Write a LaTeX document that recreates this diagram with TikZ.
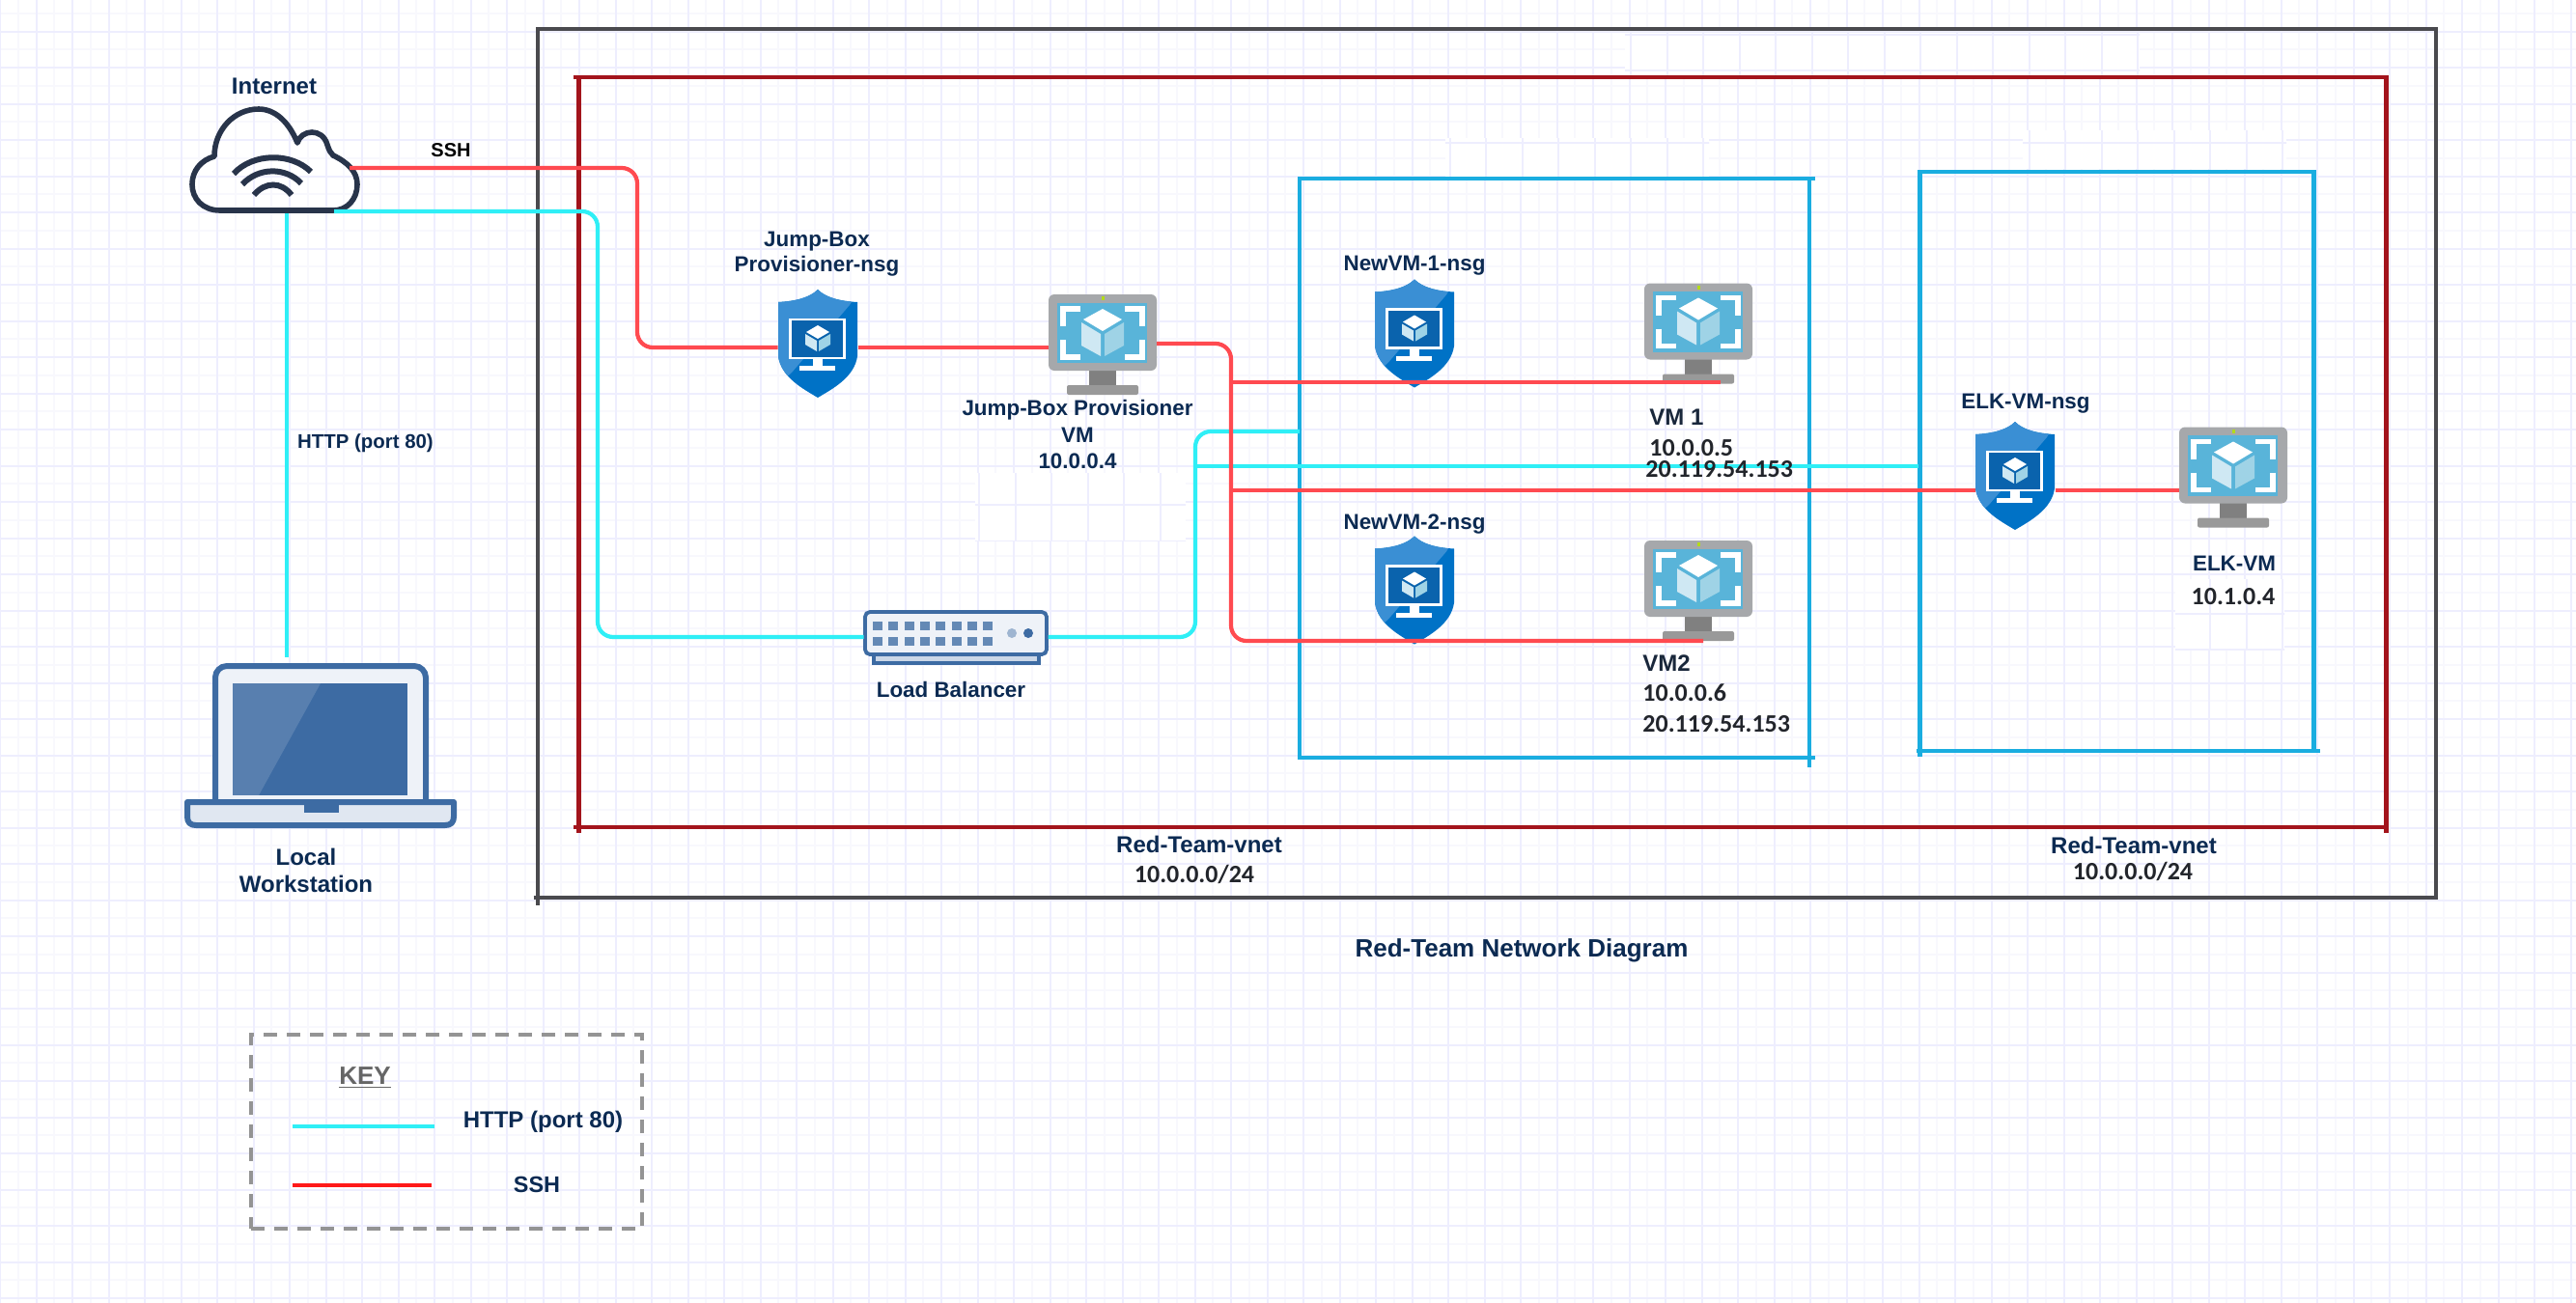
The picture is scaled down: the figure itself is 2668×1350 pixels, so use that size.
\documentclass[tikz,border=0pt]{standalone}
\usepackage{fontspec}
\setmainfont{Liberation Sans}
\newfontfamily\ipfont{Carlito}
\usetikzlibrary{calc}
\definecolor{navy}{HTML}{0B2A52}
\definecolor{ipdark}{HTML}{22252B}
\definecolor{gmajor}{HTML}{EEEEFE}
\definecolor{gminor}{HTML}{F8F8FD}
\definecolor{outerbox}{HTML}{4A4A4E}
\definecolor{vnetred}{HTML}{A3141C}
\definecolor{subnetblue}{HTML}{1AADE0}
\definecolor{sshred}{HTML}{FF4A50}
\definecolor{httpcyan}{HTML}{2FEFF6}
\definecolor{shieldlight}{HTML}{3A8FD4}
\definecolor{shielddark}{HTML}{0072C6}
\definecolor{shieldscreen}{HTML}{0A63AD}
\definecolor{vmframe}{HTML}{A6A8AB}
\definecolor{vmscreen}{HTML}{59B4D9}
\definecolor{faceleft}{HTML}{CFE8F3}
\definecolor{faceright}{HTML}{9FD3E6}
\definecolor{cloudink}{HTML}{28344A}
\definecolor{laptopink}{HTML}{3D6BA3}
\definecolor{laptoplid}{HTML}{EEF2F8}
\definecolor{laptopbase}{HTML}{E0E7F1}
\tikzset{
  gridmajor/.style={draw=gmajor,line width=1pt},
  gridminor/.style={draw=gminor,line width=.8pt},
  outerframe/.style={draw=outerbox,line width=2pt,outer sep=0pt},
  vnetframe/.style={draw=vnetred,line width=2.4pt,outer sep=0pt},
  subnetframe/.style={draw=subnetblue,line width=2.2pt,outer sep=0pt},
  ssh/.style={draw=sshred,line width=2.1pt,rounded corners=8pt},
  http/.style={draw=httpcyan,line width=2.1pt,rounded corners=8pt},
  keybox/.style={draw=black!42,line width=2.2pt,dash pattern=on 7pt off 5pt},
  lbl/.style={font=\fontsize{11.2}{13}\selectfont\bfseries,text=navy,inner sep=0pt,align=center},
  lblbig/.style={font=\fontsize{12}{14}\selectfont\bfseries,text=navy,inner sep=0pt,align=center},
  iplbl/.style={font=\fontsize{13}{15}\selectfont\ipfont\bfseries,text=ipdark,inner sep=0pt},
  iconbox/.style={inner sep=0pt,outer sep=0pt,draw=none,minimum width=#1},
  nsgshield/.pic={
    \begin{scope}
      \path[clip] (0,-56) .. controls (-8,-48) and (-22,-44) .. (-41,-43) -- (-41,13)
        .. controls (-38,35) and (-15,47) .. (0,56)
        .. controls (15,47) and (38,35) .. (41,13) -- (41,-43)
        .. controls (22,-44) and (8,-48) .. (0,-56) -- cycle;
      \fill[shielddark] (-45,-60) rectangle (45,60);
      \fill[shieldlight] (-45,-60) -- (45,-60) -- (33,-40) -- (-27,30) -- (-45,46) -- cycle;
    \end{scope}
    \draw[white,fill=shieldscreen,line width=1.3pt] (-28.5,-25) rectangle (27.5,15);
    \fill[white] (-5,16) rectangle (5,24);
    \fill[white] (-19,23) rectangle (18,28);
    \fill[white] (0,-19) -- (12,-12) -- (0,-5) -- (-12,-12) -- cycle;
    \fill[faceleft] (-13,-10) -- (-1,-3) -- (-1,8) -- (-13,1) -- cycle;
    \fill[faceright] (1,-3) -- (13,-10) -- (13,1) -- (1,8) -- cycle;
  },
  vmmonitor/.pic={
    \fill[black!50] (-14,26) rectangle (14,44);
    \fill[black!40,rounded corners=1pt] (-37,42) rectangle (37,52);
    \fill[vmframe,rounded corners=3pt] (-56,-52) rectangle (56,27);
    \fill[vmscreen] (-47,-43.5) rectangle (46,19);
    \fill[yellow!70!green] (-1.5,-50) rectangle (1.5,-46);
    \draw[white,line width=2.6pt] (-23,-37) -- (-41,-37) -- (-41,-19);
    \draw[white,line width=2.6pt] (23,-37) -- (41,-37) -- (41,-19);
    \draw[white,line width=2.6pt] (-41,-5) -- (-41,13) -- (-23,13);
    \draw[white,line width=2.6pt] (41,-5) -- (41,13) -- (23,13);
    \fill[white] (0,-37) -- (20,-26) -- (0,-14) -- (-20,-26) -- cycle;
    \fill[faceleft] (-22,-23) -- (-2,-11) -- (-2,12) -- (-22,1) -- cycle;
    \fill[faceright] (2,-11) -- (22,-23) -- (22,1) -- (2,12) -- cycle;
  },
}
\newcommand{\majorgrid}[2]{%
  \foreach \n in {0,...,71}{\draw[gridmajor] ({\n*37.5+#1},0) -- ({\n*37.5+#1},1350);}
  \foreach \n in {0,...,36}{\draw[gridmajor] (0,{\n*37.5+32.5+#2}) -- (2668,{\n*37.5+32.5+#2});}
}
\newcommand{\whitepatch}[4]{%
  \begin{scope}
    \clip (#1,#2) rectangle (#3,#4);
    \fill[white] (#1,#2) rectangle (#3,#4);
    \majorgrid{1.5}{3}
  \end{scope}
}
\begin{document}
\begin{tikzpicture}[x=0.5pt,y=-0.5pt]
\useasboundingbox (0,0) rectangle (2668,1350);
\fill[white] (0,0) rectangle (2668,1350);
% background grid
\foreach \n in {0,...,71}{\draw[gridminor] ({\n*37.5+18.75},0) -- ({\n*37.5+18.75},1350);}
\foreach \n in {0,...,36}{\draw[gridminor] (0,{\n*37.5+13.75}) -- (2668,{\n*37.5+13.75});}
\majorgrid{0}{0}
% white erased patches
\whitepatch{1683}{34}{2216}{78}
\whitepatch{2095}{135}{2368}{175}
\whitepatch{1497}{143}{1770}{183}
\whitepatch{1010}{490}{1228}{560}
\whitepatch{2253}{600}{2366}{673}
% frames
\node[outerframe,inner sep=0pt,minimum width=983pt,minimum height=450pt] (outer) at (1539.5,480) {};
\node[vnetframe,inner sep=0pt,minimum width=936pt,minimum height=388.5pt] (vnet) at (1535.5,468.5) {};
\node[subnetframe,inner sep=0pt,minimum width=264pt,minimum height=300pt] (sub1) at (1610,485) {};
\node[subnetframe,inner sep=0pt,minimum width=204pt,minimum height=300pt] (sub2) at (2192.5,478) {};
% small overruns at the frame corners
\draw[outerbox,line width=2pt] ([xshift=-2pt]outer.south west) -- (outer.south west) -- ([yshift=-4pt]outer.south west);
\draw[vnetred,line width=2.4pt] ([xshift=-3pt]vnet.north west) -- (vnet.north west);
\draw[vnetred,line width=2.4pt] ([xshift=-3pt]vnet.south west) -- (vnet.south west) -- ([yshift=-3pt]vnet.south west);
\draw[vnetred,line width=2.4pt] (vnet.south east) -- ([yshift=-3pt]vnet.south east);
\draw[subnetblue,line width=2.2pt] ([xshift=3pt]sub1.north east) -- (sub1.north east);
\draw[subnetblue,line width=2.2pt] ([xshift=3pt]sub1.south east) -- (sub1.south east) -- ([yshift=-5pt]sub1.south east);
\draw[subnetblue,line width=2.2pt] ([xshift=-2pt]sub2.south west) -- (sub2.south west) -- ([yshift=-3pt]sub2.south west);
\draw[subnetblue,line width=2.2pt] ([xshift=3pt]sub2.south east) -- (sub2.south east);
% cloud
\node[iconbox=78pt,minimum height=56pt] (cloud) at (284,174) {};
\draw[cloudink,line width=2.8pt,line join=round]
  (228,218) .. controls (210,218) and (199,206) .. (199,191)
  .. controls (199,177) and (208,166) .. (222,162)
  .. controls (222,135) and (242,113) .. (268,113)
  .. controls (286,113) and (300,128) .. (308,148)
  .. controls (312,134) and (334,132) .. (339,150)
  .. controls (341,156) and (342,158) .. (345,161)
  .. controls (360,168) and (370,178) .. (370,191)
  .. controls (370,206) and (360,218) .. (345,218) -- cycle;
\draw[cloudink,line width=3.4pt,line cap=round] (230,218) -- (343,218);
\draw[cloudink,line width=3pt] (242,180) .. controls (262,158) and (302,158) .. (322,178);
\draw[cloudink,line width=3pt] (251,191) .. controls (268,173) and (296,173) .. (312,190);
\draw[cloudink,line width=3pt] (263,202) .. controls (275,188) and (291,188) .. (302,202);
% laptop
\node[iconbox=141pt,minimum height=85pt] (laptop) at (332,773) {};
\draw[laptopink,fill=laptoplid,line width=3pt,rounded corners=6pt] (223,830) -- (223,690) -- (441,690) -- (441,830);
\fill[laptopink] (241,708) rectangle (422,824);
\fill[white,opacity=.14] (241,708) -- (332,708) -- (268,824) -- (241,824) -- cycle;
\draw[laptopink,fill=laptopbase,line width=3pt,line join=round] (194,831) -- (470,831) -- (470,846) .. controls (470,852) and (467,855) .. (461,855) -- (203,855) .. controls (197,855) and (194,852) .. (194,846) -- cycle;
\fill[laptopink] (315,832) rectangle (351,842);
% load balancer
\node[iconbox=95.5pt,minimum height=27pt] (lb) at (990,660) {};
\draw[laptopink,fill=laptoplid!80!laptopink,line width=1.6pt] (905,677) rectangle (1076,687);
\draw[laptopink,fill=laptoplid,line width=1.9pt,rounded corners=2.5pt] (896,634) rectangle (1084,678);
\foreach \n in {0,...,7}{
  \fill[laptopink!80] ({904+\n*16.3},644) rectangle ({914+\n*16.3},653);
  \fill[laptopink!80] ({904+\n*16.3},660) rectangle ({914+\n*16.3},669);
}
\fill[laptopink!50] (1048,656) circle (2.5pt);
\fill[laptopink] (1065,656) circle (2.5pt);
% shields and monitors
\node[iconbox=41.5pt,minimum height=52pt] (jbnsg) at (847,360) {};
\pic at (847,356) {nsgshield};
\node[iconbox=56pt,minimum height=52pt] (jbvm) at (1142,360) {};
\pic at (1142,357) {vmmonitor};
\pic (n1) at (1465,345.5) {nsgshield};
\node[iconbox=41.5pt,minimum height=55pt] (nsgone) at (1465,345.5) {};
\pic at (1759,345.5) {vmmonitor};
\node[iconbox=56pt,minimum height=52pt] (vmone) at (1759,345.5) {};
\pic at (1465,611.5) {nsgshield};
\node[iconbox=41.5pt,minimum height=55pt] (nsgtwo) at (1465,611.5) {};
\pic at (1759,612) {vmmonitor};
\node[iconbox=56pt,minimum height=52pt] (vmtwo) at (1759,612) {};
\pic at (2087,493) {nsgshield};
\node[iconbox=41.5pt,minimum height=52pt] (elknsg) at (2087,508) {};
\pic at (2313,494.5) {vmmonitor};
\node[iconbox=56pt,minimum height=40pt] (elkvm) at (2313,508) {};
% route helpers
\coordinate (sshbend) at (660,267);
\coordinate (jbout) at (1198,356);
\coordinate (sshbus) at (1275,500);
\coordinate (busvmone) at (1275,396);
\coordinate (buselk) at (1275,508);
\coordinate (vmonein) at (1782,396);
\coordinate (vmtwoin) at (1764,664);
\coordinate (httpout) at (346,219);
\coordinate (httpbend) at (619,440);
\coordinate (httpdown) at (297,221);
\coordinate (laptopin) at (297,681);
\coordinate (lbbend) at (1238,560);
\coordinate (httpsubone) at (1346,447);
\coordinate (httpbus) at (1238,483);
\coordinate (httpelk) at (1987,483);
% http connectors
\draw[http] (httpout) -| (httpbend) |- (lb.west);
\draw[http] (httpdown) -- (laptopin);
\draw[http] (lb.east) -| (lbbend) |- (httpsubone);
\draw[http] (httpbus) -- (httpelk);
% ssh connectors
\draw[ssh] (cloud.east) -| (sshbend) |- (jbnsg.west);
\draw[ssh] (jbnsg.east) -- (jbvm.west);
\draw[ssh] (jbout) -| (sshbus) |- (vmtwoin);
\draw[ssh] (busvmone) -- (vmonein);
\draw[ssh] (buselk) -- (elknsg.west);
\draw[ssh] (elknsg.east) -- (elkvm.west);
% labels
\node[lblbig] (tinternet) at (284,89) {Internet};
\node[font=\fontsize{10}{12}\selectfont\bfseries,inner sep=0pt,text=black] (tssh) at (467,156) {SSH};
\node[font=\fontsize{10.2}{12}\selectfont\bfseries,inner sep=0pt,text=navy] (thttp) at (378.5,459) {HTTP (port 80)};
\node[lbl,font=\fontsize{11.2}{13}\selectfont\bfseries] (tjbnsg) at (846,263) {Jump-Box\\Provisioner-nsg};
\node[lbl] (tjbvm) at (1116,425) {Jump-Box Provisioner};
\node[lbl] (tjbvmb) at (1116,451) {VM};
\node[lbl] (tjbip) at (1116,478) {10.0.0.4};
\node[lbl] (tn1) at (1465,275) {NewVM-1-nsg};
\node[lbl] (tn2) at (1465,543) {NewVM-2-nsg};
\node[lblbig,anchor=west,text=ipdark!60!navy] (tvm1) at (1708,432) {VM 1};
\node[iplbl,anchor=west] (tvm1a) at (1708,464) {10.0.0.5};
\node[iplbl,anchor=west] (tvm1b) at (1704,486) {20.119.54.153};
\node[lblbig,anchor=west,text=ipdark!60!navy] (tvm2) at (1701,687) {VM2};
\node[iplbl,anchor=west] (tvm2a) at (1701,718) {10.0.0.6};
\node[iplbl,anchor=west] (tvm2b) at (1701,750) {20.119.54.153};
\node[lbl] (telknsg) at (2098,418) {ELK-VM-nsg};
\node[lbl] (telk) at (2314,584) {ELK-VM};
\node[iplbl] (telkip) at (2313,618) {10.1.0.4};
\node[lblbig] (tlocal) at (317,902) {Local\\Workstation};
\node[lbl] (tlb) at (985,714) {Load Balancer};
\node[lblbig] (tvnet) at (1242,875) {Red-Team-vnet};
\node[iplbl] (tvnetip) at (1237,906) {10.0.0.0/24};
\node[lblbig] (tvnettwo) at (2210,876) {Red-Team-vnet};
\node[iplbl] (tvnettwoip) at (2209,903) {10.0.0.0/24};
\node[lbl,font=\fontsize{13}{15}\selectfont\bfseries] (ttitle) at (1576,985) {Red-Team Network Diagram};
% key
\node[keybox,inner sep=0pt,minimum width=202.5pt,minimum height=100.5pt] (key) at (462.5,1172.5) {};
\node[font=\fontsize{13}{15}\selectfont\bfseries,text=black!60,inner sep=0pt] (tkey) at (378,1117) {\underline{KEY}};
\node[font=\fontsize{12}{14}\selectfont\bfseries,text=navy,inner sep=0pt] (tkhttp) at (562.5,1162) {HTTP (port 80)};
\node[font=\fontsize{11.7}{14}\selectfont\bfseries,text=navy,inner sep=0pt] (tkssh) at (556,1227) {SSH};
\coordinate (kha) at (303,1167);
\coordinate (khb) at (450,1167);
\coordinate (ksa) at (303,1228);
\coordinate (ksb) at (447,1228);
\draw[http,line width=2.4pt] (kha) -- (khb);
\draw[draw=red!90!white,line width=2.4pt] (ksa) -- (ksb);
\end{tikzpicture}
\end{document}
